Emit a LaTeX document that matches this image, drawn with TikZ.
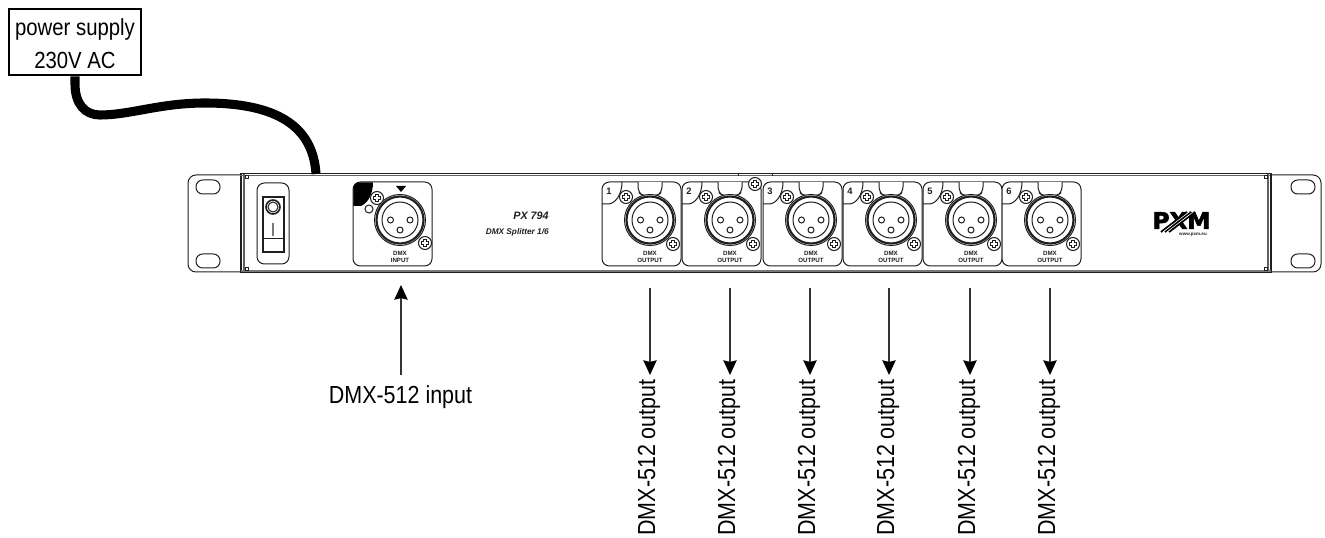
\documentclass[tikz,border=0pt]{standalone}
\usepackage{fontspec}
\setmainfont[FakeStretch=0.871]{Liberation Sans}
\newfontfamily\tinyfont{Liberation Sans}
\newfontfamily\logofont[FakeStretch=1.02,FakeBold=2.5]{DejaVu Sans}
\usetikzlibrary{arrows.meta}
\definecolor{ln}{gray}{0.12}
\tikzset{
  x=0.75pt,y=-0.75pt,
  thin line/.style={draw=ln,line width=0.75pt},
  panel/.style={thin line,rounded corners=5.5pt},
  module/.style={panel,fill=white,inner sep=0pt,minimum width=59.25pt,minimum height=63pt},
  small label/.style={font=\tinyfont\bfseries\fontsize{4.6}{5.2}\selectfont,align=center,inner sep=0pt,text=ln},
  call/.style={font=\fontsize{18.5}{22}\selectfont,inner sep=0pt,text=black},
  callarrow/.style={draw=black!80,line width=0.8pt,-{Stealth[length=11pt,width=10pt,inset=1.2pt,color=black]}},
}
\newcommand{\myscrew}[2]{%
  \draw[thin line,fill=white] (#1,#2) circle[radius=6.5];
  \draw[ln,line width=2.6pt] (#1-3.6,#2) -- (#1+3.6,#2) (#1,#2-3.6) -- (#1,#2+3.6);
  \draw[white,line width=1pt] (#1-3,#2) -- (#1+3,#2) (#1,#2-3) -- (#1,#2+3);
}
\newcommand{\myxlr}[2]{%
  \draw[thin line,fill=white] (#1,#2) circle[radius=25.5];
  \draw[ln,line width=1.6pt] (#1,#2) circle[radius=23.5];
  \draw[thin line] (#1,#2) circle[radius=18];
  \draw[thin line] (#1-9.5,#2) circle[radius=3];
  \draw[thin line] (#1+10,#2) circle[radius=3];
  \draw[thin line] (#1,#2+10) circle[radius=3];
}
\begin{document}
\begin{tikzpicture}
\useasboundingbox (0,0) rectangle (1325,538);
% ears
\draw[thin line,rounded corners=6pt] (241,175) -- (188,175) -- (188,272) -- (241,272);
\draw[thin line,rounded corners=6pt] (1271,175) -- (1321,175) -- (1321,272) -- (1271,272);
\foreach \hx in {208,1303}\foreach \hy in {187,261}{
  \draw[thin line,rounded corners=5pt] (\hx-12,\hy-7) rectangle (\hx+12,\hy+7);
}
% cable
\coordinate (cableend) at (316,174);
% chassis
\node[draw=ln,line width=0.9pt,fill=white,inner sep=0pt,minimum width=772.5pt,minimum height=74.25pt] (chassis) at (756,223) {};
\draw[ln!70,line width=0.9pt] (chassis.north west)++(0,2.6) -- ++(1030,0);
\draw[ln!70,line width=0.9pt] (244,174) -- (244,272) (1268,174) -- (1268,272);
\draw[ln!60,line width=1pt] (241,271) -- (1271,271);
\draw[thin line] (245,176) rectangle (248,179) (245,268) rectangle (248,271);
\draw[thin line] (1264,176) rectangle (1267,179) (1264,268) rectangle (1267,271);
\draw[thin line] (738,173) -- (738,176) (772,173) -- (772,176);
% switch
\node[panel,inner sep=0pt,minimum width=24pt,minimum height=60.75pt] (switch) at (273,223.5) {};
\draw[ln,line width=1.1pt] (263,197) rectangle (284,252);
\draw[thin line] (263,239) -- (284,239);
\draw[ln,line width=1.2pt] (273,207) circle[radius=7];
\draw[thin line] (273,207) circle[radius=5];
\draw[ln!60,line width=1.4pt] (273,223) -- (273,236);
% input module
\node[module] (inmod) at (392.5,224) {};
\fill[black] (353.3,206) -- (353.3,189) .. controls (353.3,185) and (356,182.3) .. (360,182.3) -- (373,182.3) .. controls (373,194) and (368,203) .. (361,206) -- cycle;
\myxlr{400}{220}
\myscrew{377}{198}
\myscrew{425}{243}
\draw[thin line] (369,209) circle[radius=4];
\fill[black] (396,186) -- (406,186) -- (401,192) -- cycle;
\node[small label] (intxt) at (400,256.5) {DMX\\INPUT};
% output modules
\foreach \i/\mx in {1/602,2/682,3/763,4/843,5/923,6/1002}{
  \node[module] (m\i) at (\mx+39.5,224) {};
  \draw[thin line] (\mx,204) -- (\mx+6,204) .. controls (\mx+13,204) and (\mx+20,195) .. (\mx+20,182);
  \draw[thin line,rounded corners=4pt,fill=white] (\mx+36,182) -- (\mx+36,192) -- (\mx+41,196) -- (\mx+55,196) -- (\mx+60,192) -- (\mx+60,182);
  \myxlr{\mx+48}{220}
  \myscrew{\mx+24}{197}
  \myscrew{\mx+71}{244}
  \node[small label] (mt\i) at (\mx+48,256.5) {DMX\\OUTPUT};
  \node[small label,font=\tinyfont\bfseries\fontsize{7}{8}\selectfont] (mn\i) at (\mx+7,191) {\i};
}
\myscrew{755}{184}
% front text
\node[font=\tinyfont\bfseries\itshape\fontsize{8.1}{9}\selectfont,inner sep=0pt,anchor=east,text=ln] (model) at (549,216) {PX 794};
\node[font=\tinyfont\bfseries\itshape\fontsize{6.2}{7}\selectfont,inner sep=0pt,anchor=east,text=ln] (desc) at (549,232) {DMX Splitter 1/6};
% logo
\node[font=\logofont\bfseries\fontsize{17}{18}\selectfont,inner sep=0pt,text=black] (logo) at (1181.5,220.5) {PXM};
\foreach \d in {0,4,8}{
  \draw[black,line width=1.4pt] (1161+\d,232) -- (1187+\d,212);
}
\foreach \d in {2,6}{
  \draw[white,line width=0.4pt] (1161+\d,232) -- (1187+\d,212);
}
\node[font=\tinyfont\bfseries\fontsize{3.4}{4}\selectfont,inner sep=0pt,text=ln] (url) at (1193,235) {www.pxm.eu};
% power box
\node[draw=black,line width=2.1pt,fill=white,inner sep=0pt,minimum width=99pt,minimum height=49.5pt] (power) at (75,42) {};
\node[inner sep=0pt,align=center,font=\fontsize{17.5}{24.75}\selectfont] (powertext) at (75,44) {power supply\\230V AC};
\draw[black,line width=6.8pt] (power.south) -- (75,84) .. controls (75,104) and (85,115) .. (100,115) .. controls (130,115) and (160,103) .. (205,103) .. controls (275,103) and (313,125) .. (cableend);
% input arrow
\node[call,anchor=base] (inlabel) at (400.5,403) {DMX-512 input};
\coordinate (instart) at (401,375);
\coordinate (intip) at (401,285);
\draw[callarrow] (instart) -- (intip);
% output arrows
\foreach \i/\ax in {1/650,2/730,3/810,4/889,5/970,6/1050}{
  \coordinate (ostart\i) at (\ax,288);
  \node[call,rotate=90,anchor=base east] (olabel\i) at (\ax+5,379) {DMX-512 output};
  \coordinate (otip\i) at (\ax,375);
  \draw[callarrow] (ostart\i) -- (otip\i);
}
\end{tikzpicture}
\end{document}
